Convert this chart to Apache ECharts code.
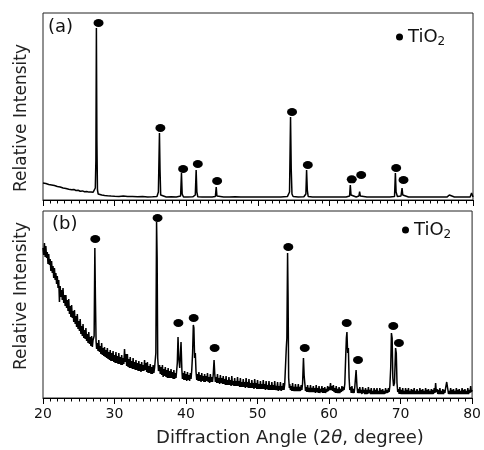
<!DOCTYPE html>
<html>
<head>
<meta charset="utf-8">
<script src="https://cdn.jsdelivr.net/npm/echarts@6/dist/echarts.min.js"></script>
<style>html,body{margin:0;padding:0;background:#fff;}#c{width:484px;height:450px;}</style>
</head>
<body>
<div id="c"></div>
<script>
// ---- data (2theta in degrees, relative intensity in arbitrary units) ----
const patternA = [
[20.0,17],[20.2,18.5],[20.4,16.5],[20.6,17.5],[20.8,15.5],[21.0,17],[21.2,15],[21.4,16],[21.6,14.5],[21.8,15.5],
[22.0,13.5],[22.2,14.5],[22.4,13],[22.6,13.5],[22.8,12],[23.0,12.8],[23.2,11.5],[23.4,12],[23.6,10.8],[23.8,11.3],
[24.0,10.2],[24.3,10.6],[24.6,9.5],[24.9,9.8],[25.2,8.8],[25.5,9.1],[25.8,8.3],[26.1,8.5],[26.4,7.9],[26.7,8.1],
[27.0,7.8],[27.2,8.5],[27.3,12],[27.38,40],[27.45,172],[27.52,60],[27.6,10],[27.7,6],[27.9,5.5],[28.2,5],
[28.6,4.6],[29.0,4.3],[29.5,4],[30.0,3.8],[30.6,3.6],[31.2,3.9],[31.8,3.4],[32.5,3.5],[33.2,3.2],[33.9,3.5],
[34.6,3.1],[35.3,3.3],[35.9,3.6],[36.1,8],[36.25,67],[36.33,30],[36.42,5],[36.6,3.2],[37.2,3],[37.9,3.2],
[38.6,3],[39.2,4],[39.32,27],[39.42,6],[39.6,3],[40.2,3.1],[40.9,3.2],[41.25,5],[41.37,30],[41.47,8],
[41.6,3.2],[42.2,3],[42.9,3.1],[43.6,3],[44.05,3.5],[44.17,13],[44.27,4],[44.5,3],[45.2,3.1],[46.0,3],
[46.8,3.2],[47.6,3],[48.4,3.1],[49.2,3],[50.0,3],[50.8,3.1],[51.6,3],[52.4,3],[53.2,3.1],[54.1,3.4],
[54.4,8],[54.54,83],[54.64,30],[54.74,6],[54.9,3.5],[55.6,3],[56.4,3.2],[56.68,6],[56.78,30],[56.88,10],
[57.0,3.5],[57.6,3],[58.3,3],[59.1,3.1],[59.9,3],[60.7,3],[61.5,3.1],[62.3,3],[62.78,4],[62.88,15],
[62.98,5],[63.1,3.2],[63.7,3],[64.08,4],[64.18,8.3],[64.28,4],[64.5,3],[65.2,3],[66.0,3.1],[66.8,3],
[67.6,3.1],[68.4,3],[69.05,3.5],[69.17,27],[69.27,8],[69.45,3.5],[69.95,4],[70.1,12],[70.2,5],[70.4,3.2],
[71.0,3],[71.6,3.1],[72.4,3],[73.2,3],[74.0,3.1],[74.8,3],[75.6,3],[76.4,3.1],[76.7,5],[76.9,3],
[77.4,3],[78.2,3.1],[79.0,3],[79.6,3],[79.8,7],[80.0,3]
];
const markersA = [
[27.75,177],[36.38,72],[39.55,31],[41.6,36],[44.3,19],[54.75,88],[56.95,35],[63.08,20.7],[64.4,25],[69.28,32],[70.3,20]
];
const patternB = [
[20.0,150],[20.1,143],[20.2,155],[20.3,141],[20.4,152],[20.5,140],[20.6,146],[20.7,134],[20.8,144],[20.9,133],
[21.0,139],[21.1,127],[21.2,137],[21.3,125],[21.4,132],[21.5,120],[21.6,130],[21.7,118],[21.8,125],[21.9,114],
[22.0,122],[22.1,110],[22.2,118],[22.3,96],[22.4,112],[22.5,101],[22.6,108],[22.7,98],[22.8,110],[22.9,95],
[23.0,103],[23.1,92],[23.2,103],[23.3,90],[23.4,98],[23.5,87],[23.6,99],[23.7,84],[23.8,92],[23.9,81],
[24.0,93],[24.1,80],[24.2,87],[24.3,76],[24.4,88],[24.5,74],[24.6,82],[24.7,71],[24.8,84],[24.9,69],
[25.0,77],[25.1,67],[25.2,79],[25.3,64],[25.4,72],[25.5,62],[25.6,74],[25.7,60],[25.8,68],[25.9,59],
[26.0,70],[26.1,57],[26.2,64],[26.3,55],[26.4,66],[26.5,54],[26.6,61],[26.7,52],[26.8,62],[26.9,51],
[27.0,58],[27.15,62],[27.25,150],[27.33,100],[27.42,57],[27.5,49],[27.6,55],[27.7,47],[27.8,58],[27.9,46],
[28.0,52],[28.1,44],[28.2,55],[28.3,43],[28.4,50],[28.5,42],[28.6,51],[28.7,41],[28.8,48],[28.9,40],
[29.0,50],[29.1,39],[29.2,46],[29.3,38],[29.4,48],[29.5,37],[29.6,45],[29.7,37],[29.8,47],[29.9,36],
[30.0,43],[30.1,35],[30.2,46],[30.3,35],[30.4,42],[30.5,34],[30.6,45],[30.7,34],[30.8,41],[30.9,33],
[31.0,43],[31.1,33],[31.2,40],[31.3,34],[31.4,49],[31.5,36],[31.6,44],[31.7,32],[31.8,44],[31.9,31],
[32.0,39],[32.1,30],[32.2,41],[32.3,30],[32.4,37],[32.5,29],[32.6,40],[32.7,29],[32.8,36],[32.9,28],
[33.0,38],[33.1,28],[33.2,35],[33.3,27],[33.4,37],[33.5,27],[33.6,34],[33.7,26],[33.8,36],[33.9,27],
[34.0,33],[34.1,27],[34.2,38],[34.3,28],[34.4,35],[34.5,26],[34.6,36],[34.7,25],[34.8,32],[34.9,25],
[35.0,34],[35.1,24],[35.2,31],[35.3,24],[35.4,33],[35.5,25],[35.6,30],[35.78,45],[35.88,176],[35.96,140],
[36.04,40],[36.15,27],[36.3,33],[36.4,24],[36.5,31],[36.6,23],[36.7,33],[36.8,21],[36.9,29],[37.0,22],
[37.1,31],[37.2,21],[37.3,28],[37.4,20],[37.5,30],[37.6,20],[37.7,27],[37.8,20],[37.9,29],[38.0,20],
[38.1,26],[38.2,19],[38.3,28],[38.4,19],[38.5,25],[38.6,20],[38.78,35],[38.88,61],[38.98,40],[39.12,30],
[39.3,56],[39.42,28],[39.5,19],[39.6,25],[39.7,18],[39.8,27],[39.9,18],[40.0,24],[40.1,17],[40.2,26],
[40.3,18],[40.4,23],[40.5,17],[40.6,25],[40.7,19],[40.8,28],[40.92,45],[41.02,73],[41.1,70],[41.2,40],
[41.3,45],[41.4,26],[41.5,18],[41.6,24],[41.7,17],[41.8,26],[41.9,17],[42.0,23],[42.1,16],[42.2,25],
[42.3,17],[42.4,22],[42.5,16],[42.6,24],[42.7,16],[42.8,22],[42.9,17],[43.0,25],[43.1,16],[43.2,21],
[43.3,15],[43.4,24],[43.5,16],[43.6,21],[43.7,16],[43.8,23],[43.92,38],[44.02,24],[44.1,16],[44.2,21],
[44.3,15],[44.4,24],[44.5,15],[44.6,20],[44.7,14],[44.8,23],[44.9,15],[45.0,20],[45.1,14],[45.2,22],
[45.3,14],[45.4,19],[45.5,13],[45.6,22],[45.7,13],[45.8,18],[45.9,13],[46.0,21],[46.1,13],[46.2,18],
[46.3,12],[46.4,22],[46.5,13],[46.6,17],[46.7,12],[46.8,20],[46.9,12],[47.0,17],[47.1,12],[47.2,21],
[47.3,12],[47.4,17],[47.5,11],[47.6,20],[47.7,11],[47.8,16],[47.9,11],[48.0,19],[48.1,11],[48.2,16],
[48.3,10],[48.4,20],[48.5,11],[48.6,16],[48.7,10],[48.8,19],[48.9,10],[49.0,15],[49.1,10],[49.2,18],
[49.3,10],[49.4,15],[49.5,9],[49.6,19],[49.7,10],[49.8,15],[49.9,9],[50.0,18],[50.1,9],[50.2,14],
[50.3,9],[50.4,17],[50.5,9],[50.6,14],[50.7,9],[50.8,18],[50.9,9],[51.0,14],[51.1,8],[51.2,17],
[51.3,9],[51.4,13],[51.5,8],[51.6,17],[51.7,8],[51.8,13],[51.9,8],[52.0,16],[52.1,8],[52.2,13],
[52.3,8],[52.4,17],[52.5,8],[52.6,12],[52.7,8],[52.8,16],[52.9,7],[53.0,12],[53.1,8],[53.2,16],
[53.3,7],[53.4,12],[53.5,8],[53.6,15],[53.7,8],[53.8,14],[53.92,16],[54.02,50],[54.1,60],[54.2,145],
[54.27,100],[54.35,20],[54.45,10],[54.5,14],[54.6,8],[54.7,12],[54.8,7],[54.9,15],[55.0,7],[55.1,11],
[55.2,7],[55.3,14],[55.4,7],[55.5,11],[55.6,7],[55.7,14],[55.8,7],[55.9,11],[56.0,7],[56.1,13],
[56.2,8],[56.3,15],[56.42,40],[56.52,22],[56.62,14],[56.7,7],[56.8,11],[56.9,6],[57.0,13],[57.1,6],
[57.2,10],[57.3,6],[57.4,13],[57.5,6],[57.6,10],[57.7,6],[57.8,12],[57.9,6],[58.0,10],[58.1,5],
[58.2,13],[58.3,6],[58.4,10],[58.5,5],[58.6,12],[58.7,5],[58.8,9],[58.9,6],[59.0,12],[59.1,5],
[59.2,10],[59.3,5],[59.4,11],[59.5,5],[59.6,9],[59.7,6],[59.8,12],[59.9,7],[60.0,11],[60.1,8],
[60.2,15],[60.3,8],[60.4,12],[60.5,7],[60.6,13],[60.7,6],[60.8,10],[60.9,5],[61.0,12],[61.1,5],
[61.2,9],[61.3,5],[61.4,11],[61.5,5],[61.6,9],[61.7,6],[61.8,12],[61.9,7],[62.0,11],[62.1,8],
[62.2,14],[62.32,40],[62.42,60],[62.5,66],[62.6,45],[62.7,50],[62.8,20],[62.9,8],[63.0,11],[63.1,5],
[63.2,12],[63.3,5],[63.4,9],[63.5,5],[63.6,11],[63.78,28],[63.9,12],[64.0,5],[64.1,9],[64.2,5],
[64.3,11],[64.4,5],[64.5,8],[64.6,4],[64.7,11],[64.8,5],[64.9,8],[65.0,4],[65.1,10],[65.2,4],
[65.3,8],[65.4,4],[65.5,11],[65.6,5],[65.7,8],[65.8,4],[65.9,10],[66.0,4],[66.1,7],[66.2,4],
[66.3,10],[66.4,4],[66.5,8],[66.6,4],[66.7,10],[66.8,4],[66.9,7],[67.0,4],[67.1,10],[67.2,4],
[67.3,8],[67.4,4],[67.5,9],[67.6,4],[67.7,7],[67.8,4],[67.9,10],[68.0,5],[68.1,8],[68.2,5],
[68.3,10],[68.4,6],[68.5,12],[68.62,30],[68.72,65],[68.82,60],[68.92,20],[69.02,12],[69.15,15],[69.3,50],
[69.4,45],[69.5,15],[69.6,6],[69.7,9],[69.8,4],[69.9,11],[70.0,4],[70.1,8],[70.2,4],[70.3,10],
[70.4,4],[70.5,7],[70.6,4],[70.7,10],[70.8,4],[70.9,8],[71.0,4],[71.1,10],[71.2,4],[71.3,7],
[71.4,4],[71.5,9],[71.6,4],[71.7,8],[71.8,4],[71.9,10],[72.0,4],[72.1,7],[72.2,4],[72.3,9],
[72.4,4],[72.5,7],[72.6,4],[72.7,10],[72.8,4],[72.9,8],[73.0,4],[73.1,9],[73.2,4],[73.3,7],
[73.4,4],[73.5,10],[73.6,4],[73.7,8],[73.8,4],[73.9,9],[74.0,4],[74.1,7],[74.2,4],[74.3,9],
[74.4,4],[74.5,8],[74.6,4],[74.7,10],[74.8,5],[74.9,15],[75.0,6],[75.1,9],[75.2,4],[75.3,8],
[75.4,4],[75.5,10],[75.6,4],[75.7,7],[75.8,4],[75.9,9],[76.0,4],[76.1,8],[76.2,5],[76.3,10],
[76.45,16],[76.6,9],[76.7,4],[76.8,7],[76.9,4],[77.0,10],[77.1,4],[77.2,8],[77.3,4],[77.4,9],
[77.5,4],[77.6,7],[77.7,4],[77.8,10],[77.9,4],[78.0,8],[78.1,4],[78.2,9],[78.3,4],[78.4,7],
[78.5,4],[78.6,10],[78.7,4],[78.8,8],[78.9,4],[79.0,9],[79.1,4],[79.2,7],[79.3,4],[79.4,10],
[79.5,4],[79.6,8],[79.7,5],[79.8,12],[79.9,6],[80.0,8]
];
const markersB = [
[27.31,159],[36.02,180],[38.93,75],[41.07,80],[44.0,50],[54.3,151],[56.6,50],[62.47,75],[64.05,38],[68.98,72],[69.77,55]
];
const xMin = 20, xMax = 80, xStep = 10;
const panelLabels = ['(a)', '(b)'];
const phaseName = 'TiO2';

// ---- chart ----
const FONT = 'DejaVu Sans';
const chart = echarts.init(document.getElementById('c'), null, {renderer: 'canvas'});
function xAxisCfg(grid, labels) {
  return {
    gridIndex: grid, type: 'value', min: xMin, max: xMax, interval: xStep,
    axisLine: {show: true, lineStyle: {color: '#000', width: 1}},
    axisTick: {show: true, inside: false, length: 6, lineStyle: {color: '#000', width: 1}},
    minorTick: {show: true, splitNumber: 10, length: 3.5, lineStyle: {color: '#000', width: 1}},
    axisLabel: {show: labels, color: '#111', fontSize: 14, fontFamily: FONT, margin: 9},
    splitLine: {show: false}
  };
}
function yAxisCfg(grid) {
  return {gridIndex: grid, type: 'value', min: 0, max: 187, show: true,
    axisLine: {show: false}, axisTick: {show: false}, axisLabel: {show: false}, splitLine: {show: false}};
}
const legendText = {
  color: '#111', fontFamily: FONT,
  rich: {a: {fontSize: 18, fontFamily: FONT, color: '#111'},
         s: {fontSize: 12, fontFamily: FONT, color: '#111', padding: [9, 0, 0, 0]}}
};
chart.setOption({
  animation: false,
  backgroundColor: '#fff',
  grid: [
    {left: 43, right: 11, top: 13, height: 187, show: true, borderColor: '#222', borderWidth: 1, backgroundColor: 'transparent'},
    {left: 43, right: 11, top: 211, height: 187, show: true, borderColor: '#222', borderWidth: 1, backgroundColor: 'transparent'}
  ],
  xAxis: [xAxisCfg(0, false), xAxisCfg(1, true)],
  yAxis: [yAxisCfg(0), yAxisCfg(1)],
  legend: [
    {data: [phaseName], left: 396, top: 28, icon: 'circle', itemWidth: 7, itemHeight: 7, selectedMode: false,
     formatter: '{a|TiO}{s|2}', textStyle: legendText, padding: 0},
    {data: [phaseName], left: 402, top: 221, icon: 'circle', itemWidth: 7, itemHeight: 7, selectedMode: false,
     formatter: '{a|TiO}{s|2}', textStyle: legendText, padding: 0}
  ],
  graphic: [
    {type: 'text', left: 48, top: 18, style: {text: panelLabels[0], font: '18px "DejaVu Sans"', fill: '#111'}},
    {type: 'text', left: 52, top: 215, style: {text: panelLabels[1], font: '18px "DejaVu Sans"', fill: '#111'}},
    {type: 'text', x: 22, y: 118, rotation: Math.PI / 2,
     style: {text: 'Relative Intensity', font: '17px "DejaVu Sans"', fill: '#222', align: 'center', verticalAlign: 'middle'}},
    {type: 'text', x: 22, y: 296, rotation: Math.PI / 2,
     style: {text: 'Relative Intensity', font: '17px "DejaVu Sans"', fill: '#222', align: 'center', verticalAlign: 'middle'}},
    {type: 'text', x: 290, y: 438,
     style: {text: '{n|Diffraction Angle (2}{i|θ}{n|, degree)}', align: 'center', verticalAlign: 'middle',
       rich: {n: {fontSize: 18, fontFamily: FONT, fill: '#222', color: '#222'},
              i: {fontSize: 18, fontFamily: FONT, fontStyle: 'italic', fill: '#222', color: '#222'}}}}
  ],
  series: [
    {type: 'line', xAxisIndex: 0, yAxisIndex: 0, data: patternA, showSymbol: false, symbol: 'none',
     lineStyle: {color: '#000', width: 1.5}, silent: true},
    {type: 'scatter', name: phaseName, xAxisIndex: 0, yAxisIndex: 0, data: markersA, symbol: 'circle',
     symbolSize: [10, 8], itemStyle: {color: '#000', opacity: 1}, silent: true},
    {type: 'line', xAxisIndex: 1, yAxisIndex: 1, data: patternB, showSymbol: false, symbol: 'none',
     lineStyle: {color: '#000', width: 1.5}, silent: true},
    {type: 'scatter', name: phaseName, xAxisIndex: 1, yAxisIndex: 1, data: markersB, symbol: 'circle',
     symbolSize: [10, 8], itemStyle: {color: '#000', opacity: 1}, silent: true}
  ]
});
</script>
</body>
</html>
